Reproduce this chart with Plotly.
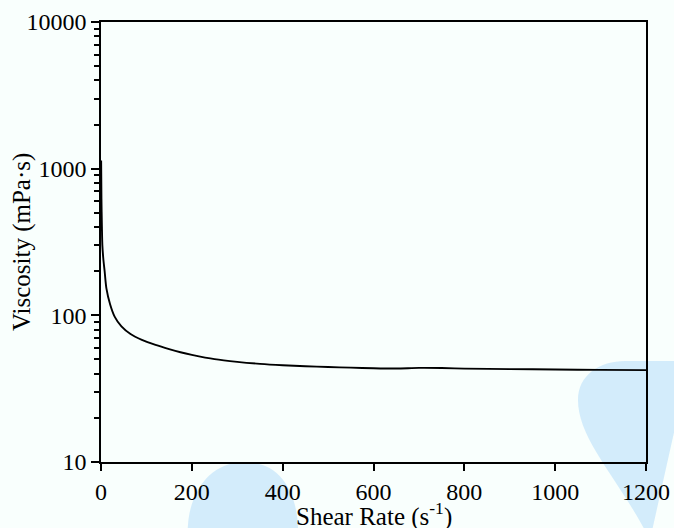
import plotly.graph_objects as go

shear_rate = [0.3, 1, 2, 3, 5, 8, 12, 20, 30, 45, 65, 90, 120, 150, 175,
              200, 250, 300, 350, 400, 450, 500, 550, 600, 650, 700, 750, 800,
              900, 1000, 1100, 1200]
viscosity = [1135, 620, 400, 300, 245, 200, 152, 119, 98, 84, 74.5, 68, 62.8,
             58.8, 56, 53.8, 50.3, 48.2, 46.7, 45.7, 45, 44.4, 44, 43.6,
             43.4, 43.8, 43.7, 43.3, 43.0, 42.7, 42.5, 42.3]

y_tickvals = [10, 100, 1000, 10000]
y_ticktext = ["10", "100", "1000", "10000"]
x_tickvals = [0, 200, 400, 600, 800, 1000, 1200]

W, H = 674, 528
L, R, T, B = 101, 28, 22, 66
pw, ph = W - L - R, H - T - B
FONT = "Liberation Serif"


def px(x):
    return (x - L) / pw


def py(y):
    return (H - B - y) / ph


def path2(start, segs):
    s = "M {:.4f},{:.4f}".format(px(start[0]), py(start[1]))
    for cmd, pts in segs:
        s += " " + cmd + " " + " ".join("{:.4f},{:.4f}".format(px(a), py(b)) for a, b in pts)
    return s + " Z"


blob_color = "rgba(205,233,250,0.85)"

blob1 = path2((188, 540), [("C", [(185, 500), (205, 462), (245, 462)]),
                          ("C", [(285, 462), (300, 500), (298, 540)])])
blob2 = path2((650, 540), [("C", [(620, 480), (578, 440), (578, 400)]),
                          ("C", [(578, 375), (600, 361), (625, 361)]),
                          ("L", [(690, 361), (690, 540)])])

fig = go.Figure()
fig.add_trace(go.Scatter(x=shear_rate, y=viscosity, mode="lines",
                         line=dict(color="black", width=1.9, shape="spline", smoothing=0.8),
                         showlegend=False))

fig.update_layout(
    width=W, height=H,
    margin=dict(l=L, r=R, t=T, b=B, autoexpand=False),
    paper_bgcolor="#f9fffd",
    plot_bgcolor="rgba(0,0,0,0)",
    font=dict(family=FONT, size=24, color="black"),
    shapes=[
        dict(type="path", xref="paper", yref="paper", path=blob1, fillcolor=blob_color,
             line=dict(width=0), layer="below"),
        dict(type="path", xref="paper", yref="paper", path=blob2, fillcolor=blob_color,
             line=dict(width=0), layer="below"),
    ],
    annotations=[
        dict(text="Shear Rate (s<sup>-1</sup>)", xref="paper", yref="paper",
             x=0.5, y=py(514), xanchor="center", yanchor="middle", showarrow=False,
             font=dict(family=FONT, size=25, color="black")),
        dict(text="Viscosity (mPa·s)", xref="paper", yref="paper",
             x=px(22), y=0.5, xanchor="center", yanchor="middle", textangle=-90,
             showarrow=False, font=dict(family=FONT, size=25, color="black")),
    ],
)

fig.update_xaxes(
    range=[0, 1200], tickvals=x_tickvals, showgrid=False, zeroline=False,
    showline=True, linecolor="black", linewidth=1.5, mirror=True,
    ticks="outside", ticklen=7, tickwidth=1.5, tickcolor="black",
    tickfont=dict(family=FONT, size=24), automargin=False,
)
fig.update_yaxes(
    type="log", range=[1, 4], tickvals=y_tickvals, ticktext=y_ticktext,
    showgrid=False, zeroline=False,
    showline=True, linecolor="black", linewidth=1.5, mirror=True,
    ticks="outside", ticklen=8, tickwidth=1.5, tickcolor="black",
    tickfont=dict(family=FONT, size=24), automargin=False,
    minor=dict(ticks="outside", ticklen=5, tickwidth=1.5, tickcolor="black",
               tickvals=[m * 10 ** e for e in (1, 2, 3) for m in range(2, 10)],
               showgrid=False),
)

fig.write_html("out.html", config={"displayModeBar": False},
               post_script="document.body.style.margin='0';")
